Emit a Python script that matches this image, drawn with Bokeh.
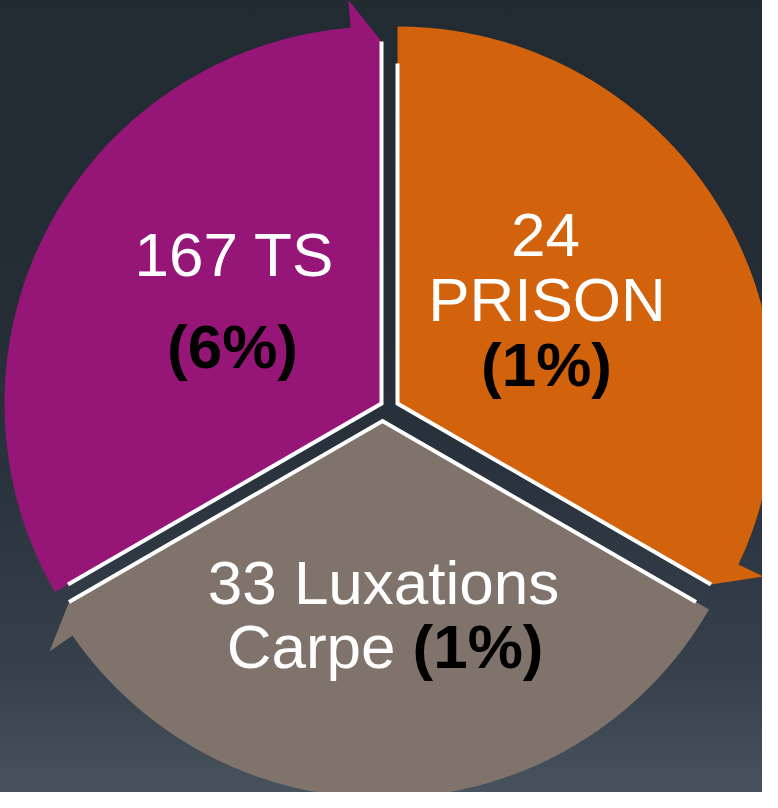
import numpy as np
from bokeh.plotting import figure
from bokeh.models import Range1d, ColumnDataSource, InlineStyleSheet
from bokeh.core.properties import value
from bokeh.embed import file_html
from bokeh.resources import INLINE

# ---- data -------------------------------------------------------------
categories = ["TS", "PRISON", "Luxations Carpe"]
counts = [167, 24, 33]
percents = [6, 1, 1]
palette = ["#951677", "#D2620C", "#7F736C"]

# ---- layout (screen-like coordinates: y grows downward) ---------------
W, H = 762, 792
p = figure(width=W, height=H, output_backend="svg", toolbar_location=None,
           x_range=Range1d(8, 770), y_range=Range1d(800, 8),
           min_border=0, background_fill_alpha=0, border_fill_alpha=0,
           outline_line_color=None)
p.axis.visible = False
p.grid.visible = False
p.stylesheets = [InlineStyleSheet(css=":host { background: linear-gradient(to bottom, "
                                      "#222a32 0%, #242d36 40%, #2b343e 62%, #36404a 84%, #48525c 100%); }")]

# segment geometry: center, start angle, end angle (clockwise, degrees)
centers = [(389.0, 411.0), (405.0, 411.0), (390.0, 428.5)]
angles = [(210.0, 90.0), (90.0, -30.0), (-30.0, -150.0)]
R, R_flange, R_tip, back = 377.0, 405.0, 362.0, 4.7
white_start = [362.0, 340.0, 362.0]

def pt(c, r, a):
    t = np.radians(a)
    return c[0] + r * np.cos(t), c[1] - r * np.sin(t)

xs, ys, lx, ly = [], [], [], []
for c, (a0, a1), ws in zip(centers, angles, white_start):
    ab = a1 + back
    arc = np.linspace(a0, ab, 200)
    px = [c[0]] + [pt(c, R, a)[0] for a in arc]
    py = [c[1]] + [pt(c, R, a)[1] for a in arc]
    fx, fy = pt(c, R_flange, ab)
    tx, ty = pt(c, R_tip, a1)
    px += [fx, tx]
    py += [fy, ty]
    xs.append(px)
    ys.append(py)
    sx, sy = pt(c, ws, a0)
    lx.append([sx, c[0], tx])
    ly.append([sy, c[1], ty])

p.patches(xs=xs, ys=ys, fill_color=palette, line_color=None)
p.multi_line(xs=lx, ys=ly, line_color="white", line_width=4, line_join="miter")

# ---- labels -----------------------------------------------------------
F = "62px"
font = value("Liberation Sans")
luxa, carpe = categories[2].split(" ")
dy = -23  # renderer baseline correction

white_txt = ColumnDataSource(dict(
    x=[242, 553, 554.5, 391],
    y=[285 + dy, 265 + dy, 330 + dy, 613 + dy],
    t=[f"{counts[0]} {categories[0]}", f"{counts[1]}", categories[1], f"{counts[2]} {luxa}"]))
p.text(x="x", y="y", text="t", source=white_txt, text_color="white", text_font=font,
       text_font_size=F, text_align="center", text_baseline="alphabetic")

p.text(x=[403], y=[677 + dy], text=[carpe], text_color="white", text_font=font,
       text_font_size=F, text_align="right", text_baseline="alphabetic")

pct_txt = ColumnDataSource(dict(
    x=[240, 554],
    y=[377 + dy, 395 + dy],
    t=[f"({percents[0]}%)", f"({percents[1]}%)"]))
p.text(x="x", y="y", text="t", source=pct_txt, text_color="black", text_font=font,
       text_font_size=F, text_font_style="bold", text_align="center", text_baseline="alphabetic")
p.text(x=[420], y=[677 + dy], text=[f"({percents[2]}%)"], text_color="black", text_font=font,
       text_font_size=F, text_font_style="bold", text_align="left", text_baseline="alphabetic")

open("out.html", "w").write(file_html(p, INLINE))
